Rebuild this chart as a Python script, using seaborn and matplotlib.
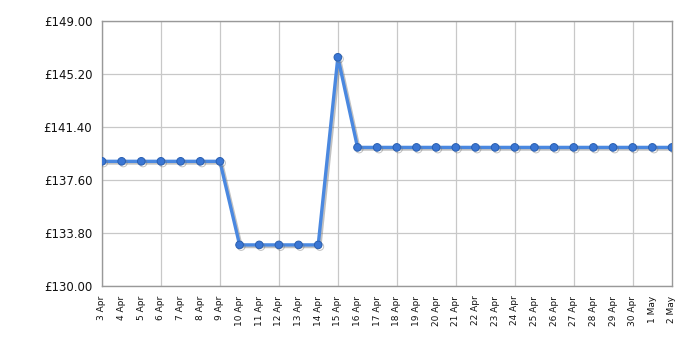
import matplotlib
matplotlib.use("Agg")
import matplotlib.pyplot as plt
import matplotlib.patheffects as pe
import seaborn as sns
import pandas as pd
import numpy as np

dates = ["3 Apr", "4 Apr", "5 Apr", "6 Apr", "7 Apr", "8 Apr", "9 Apr", "10 Apr",
         "11 Apr", "12 Apr", "13 Apr", "14 Apr", "15 Apr", "16 Apr", "17 Apr",
         "18 Apr", "19 Apr", "20 Apr", "21 Apr", "22 Apr", "23 Apr", "24 Apr",
         "25 Apr", "26 Apr", "27 Apr", "28 Apr", "29 Apr", "30 Apr", "1 May", "2 May"]
prices = [138.95, 138.95, 138.95, 138.95, 138.95, 138.95, 138.95,
          132.95, 132.95, 132.95, 132.95, 132.95,
          146.42,
          139.95, 139.95, 139.95, 139.95, 139.95, 139.95, 139.95, 139.95, 139.95,
          139.95, 139.95, 139.95, 139.95, 139.95, 139.95, 139.95, 139.95]
y_ticks = [130.00, 133.80, 137.60, 141.40, 145.20, 149.00]

sns.set_theme(style="white")
plt.rcParams['font.family'] = ['DejaVu Sans']

df = pd.DataFrame({"idx": np.arange(len(dates)), "price": prices})

fig = plt.figure(figsize=(7, 3.5), dpi=100)
ax = fig.add_axes([0.1457, 0.1829, 0.96 - 0.1457, 0.939 - 0.1829])

sns.lineplot(data=df, x="idx", y="price", ax=ax, color="#4a88e0", linewidth=2.4,
             marker="o", markersize=5.5, markerfacecolor="#3a76d4",
             markeredgecolor="#2a5fb0", markeredgewidth=0.7, zorder=3,
             path_effects=[pe.SimpleLineShadow(offset=(1.2, -1.2), shadow_color="#777777", alpha=0.45),
                           pe.Normal()])

ax.set_xlim(0, len(dates) - 1)
ax.set_ylim(y_ticks[0], y_ticks[-1])
ax.set_yticks(y_ticks)
ax.set_yticklabels([f"£{v:.2f}" for v in y_ticks], fontsize=8.5, color="#111111")
ax.set_xticks(np.arange(len(dates)))
ax.set_xticklabels(dates, rotation=90, fontsize=6.5, color="#111111")
ax.set_xlabel("")
ax.set_ylabel("")

ax.tick_params(axis="y", length=5, width=1, color="#000000", pad=2)
ax.tick_params(axis="x", length=4, width=1, color="#000000", pad=3)
for i, t in enumerate(ax.xaxis.get_major_ticks()):
    if i % 3 != 0:
        t.tick1line.set_markersize(0)

# grid: vertical every 3 days, horizontal at y ticks
for i in range(0, len(dates), 3):
    ax.axvline(i, color="#c8c8c8", linewidth=0.9, zorder=0)
for v in y_ticks:
    ax.axhline(v, color="#c8c8c8", linewidth=0.9, zorder=0)

for s in ax.spines.values():
    s.set_visible(True)
    s.set_color("#999999")
    s.set_linewidth(1)

fig.savefig("out.png", dpi=100)
